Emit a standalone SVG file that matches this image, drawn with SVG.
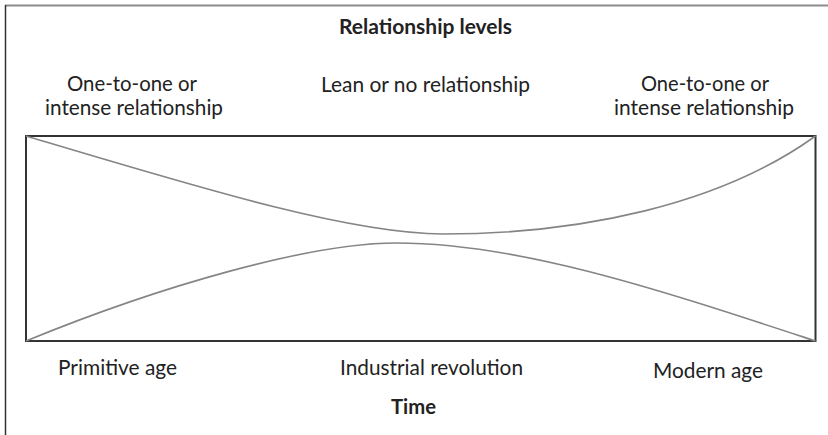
<svg xmlns="http://www.w3.org/2000/svg" width="828" height="435" viewBox="0 0 828 435">
<style>
  text { font-family: Lato, "Open Sans", "Liberation Sans", sans-serif; font-size: 20.5px; fill: #222; text-anchor: middle; }
  .b { font-weight: bold; }
  .curve { fill: none; stroke: #858585; stroke-width: 1.6; }
</style>
<rect width="828" height="435" fill="#fff"/>
<g id="frame">
  <line x1="5" y1="5.5" x2="828" y2="5.5" stroke="#8c8c8c" stroke-width="2"/>
  <line x1="5.5" y1="5" x2="5.5" y2="435" stroke="#333" stroke-width="1.5"/>
</g>
<g id="titles">
  <text class="b" x="425.5" y="34" textLength="173" lengthAdjust="spacingAndGlyphs">Relationship levels</text>
  <text class="b" x="413.5" y="414" textLength="45" lengthAdjust="spacingAndGlyphs">Time</text>
</g>
<g id="top-labels">
  <text x="132" y="91" textLength="130" lengthAdjust="spacingAndGlyphs">One-to-one or</text>
  <text x="134" y="115" textLength="178" lengthAdjust="spacingAndGlyphs">intense relationship</text>
  <text x="425.5" y="92" textLength="209" lengthAdjust="spacingAndGlyphs">Lean or no relationship</text>
  <text x="705" y="91" textLength="128" lengthAdjust="spacingAndGlyphs">One-to-one or</text>
  <text x="704" y="115" textLength="180" lengthAdjust="spacingAndGlyphs">intense relationship</text>
</g>
<g id="chart">
  <rect x="26" y="136" width="789.5" height="205" fill="none" stroke="#333" stroke-width="2"/>
</g>
<g id="connectors">
  <path class="curve" d="M26,136 C200,188 350,234 443,234 C580,234 720,205 815.5,136"/>
  <path class="curve" d="M26,341 C160,286 310,243 396,243 C520,243 660,290 815.5,341"/>
</g>
<g id="bottom-labels">
  <text x="117.5" y="375" textLength="119" lengthAdjust="spacingAndGlyphs">Primitive age</text>
  <text x="431.5" y="375" textLength="183" lengthAdjust="spacingAndGlyphs">Industrial revolution</text>
  <text x="708" y="377.5" textLength="110" lengthAdjust="spacingAndGlyphs">Modern age</text>
</g>
</svg>
